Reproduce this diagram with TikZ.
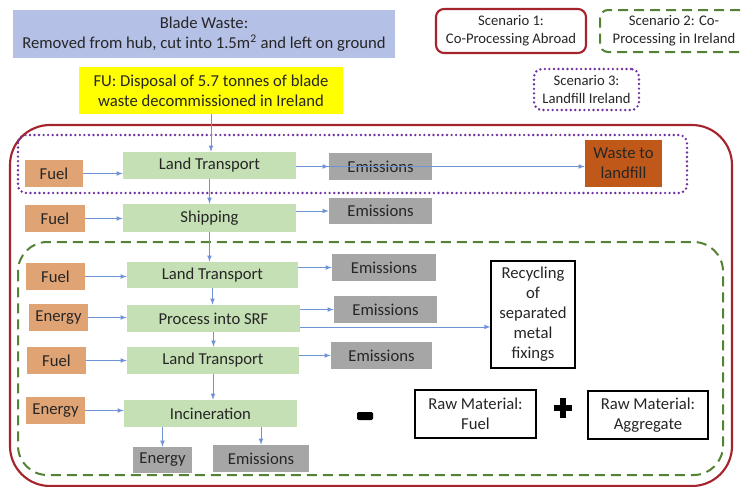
\documentclass[tikz,border=0pt]{standalone}
\usepackage{fontspec}
\setmainfont{Carlito}
\usepackage{xcolor}
\usepackage{tikz}
\usetikzlibrary{arrows,positioning}
\definecolor{blade}{HTML}{B4C0E6}
\definecolor{fu}{HTML}{FFFF00}
\definecolor{fuel}{HTML}{E0A374}
\definecolor{proc}{HTML}{C5E0B4}
\definecolor{emis}{HTML}{A6A6A6}
\definecolor{landf}{HTML}{C0581A}
\definecolor{scena}{HTML}{A5232B}
\definecolor{scenb}{HTML}{548235}
\definecolor{scenc}{HTML}{7030A0}
\definecolor{flow}{HTML}{6F93D6}
\tikzset{
    box/.style={draw=none, inner sep=1pt, align=center, text=black!85,
        font=\fontsize{12.5}{15}\selectfont},
    fuelbox/.style={box, fill=fuel},
    procbox/.style={box, fill=proc},
    emisbox/.style={box, fill=emis},
    outbox/.style={box, fill=white, draw=black, line width=0.9pt},
    legbox/.style={box, fill=white, font=\fontsize{11}{13.5}\selectfont},
    flowarrow/.style={->, >=latex, color=flow, line width=0.6pt},
}
\newcommand{\pbox}[7]{
    \pgfmathsetmacro{\bw}{(#5-#3)*0.75}
    \pgfmathsetmacro{\bh}{(#6-#4)*0.75}
    \node[#2, minimum width=\bw pt, minimum height=\bh pt] (#1) at ({(#3+#5)/2},
    {(#4+#6)/2}) {#7};
}

\begin{document}
\begin{tikzpicture}[x=0.75pt, y=-0.75pt]
        \useasboundingbox (0,0) rectangle (743,486);

        % scenario frames
        \draw[color=scena, line width=1.6pt, rounded corners=30pt] (10,125) rectangle (732,486);
        \draw[color=scenc, line width=2pt, dash pattern=on 0pt off 3.4pt, line cap=round,
        rounded corners=6pt] (18,135) rectangle (687,193);
        \draw[color=scenb, line width=1.5pt, dash pattern=on 7.5pt off 4.5pt,
        rounded corners=22pt] (18,242) rectangle (723,475);

        \pbox{blade}{box, fill=blade}{13}{10}{395}{58}{Blade Waste:\\Removed from hub, cut into 1.5m\textsuperscript{2} and left on ground};
        \pbox{fu}{box, fill=fu}{79}{67}{343}{114}{FU: Disposal of 5.7 tonnes of blade\\waste decommissioned in Ireland};

        \pbox{leg1}{legbox, draw=scena, line width=1.6pt, rounded corners=6pt}{436}{9}{586}{53}{Scenario 1:\\Co-Processing Abroad};
        \pbox{leg2}{legbox, draw=scenb, line width=1.5pt, dash pattern=on 7.5pt off 4.5pt, rounded corners=6pt}{600}{10}{748}{52}{Scenario 2: Co-\\Processing in Ireland};
        \pbox{leg3}{legbox, draw=scenc, line width=2pt, dash pattern=on 0pt off 3.4pt, line cap=round, rounded corners=6pt}{534}{69}{639}{110}{Scenario 3:\\Landfill Ireland};

        \pbox{fuel1}{fuelbox}{25}{160}{83}{187}{Fuel};
        \pbox{land1}{procbox}{123}{152}{296}{179}{Land Transport};
        \pbox{emis1}{emisbox}{329}{153}{432}{180}{Emissions};
        \pbox{landfill}{box, fill=landf}{585}{140}{662}{187}{Waste to\\landfill};

        \pbox{fuel2}{fuelbox}{25}{205}{85}{232}{Fuel};
        \pbox{ship}{procbox}{123}{204}{296}{232}{Shipping};
        \pbox{emis2}{emisbox}{329}{198}{432}{224}{Emissions};

        \pbox{fuel3}{fuelbox}{26}{263}{85}{290}{Fuel};
        \pbox{land3}{procbox}{127}{262}{298}{288}{Land Transport};
        \pbox{emis3}{emisbox}{332}{254}{436}{281}{Emissions};

        \pbox{energy4}{fuelbox}{29}{304}{88}{331}{Energy};
        \pbox{srf}{procbox}{127}{305}{300}{332}{Process into SRF};
        \pbox{emis4}{emisbox}{334}{296}{437}{323}{Emissions};

        \pbox{fuel5}{fuelbox}{27}{347}{86}{374}{Fuel};
        \pbox{land5}{procbox}{127}{347}{299}{374}{Land Transport};
        \pbox{emis5}{emisbox}{331}{342}{432}{369}{Emissions};

        \pbox{energy6}{fuelbox}{26}{397}{85}{424}{Energy};
        \pbox{incin}{procbox}{124}{400}{297}{427}{Incineration};
        \pbox{energyout}{emisbox}{133}{447}{192}{473}{Energy};
        \pbox{emisout}{emisbox}{213}{445}{309}{472}{Emissions};

        \pbox{recyc}{outbox}{491}{261}{575}{368}{Recycling\\of\\separated\\metal\\fixings};
        \pbox{rawfuel}{outbox}{415}{390}{536}{438}{Raw Material:\\Fuel};
        \pbox{rawagg}{outbox}{588}{391}{708}{439}{Raw Material:\\Aggregate};

        % minus and plus
        \fill[black, rounded corners=1pt] (357,412) rectangle (373,420);
        \fill[black] (554,405) rectangle (572,411);
        \fill[black] (560,398) rectangle (566,418);

        % flows
        \draw[flowarrow] (fu.south) -- (fu.south |- land1.north);
        \draw[flowarrow] (fuel1.east) -- (fuel1.east -| land1.west);
        \draw[flowarrow] (emis1.west -| land1.east) -- (emis1.west);
        \draw[flowarrow] (emis1.west -| land1.east) -- (emis1.west -| landfill.west);
        \draw[flowarrow] (land1.south) -- (land1.south |- ship.north);

        \draw[flowarrow] (fuel2.east) -- (fuel2.east -| ship.west);
        \draw[flowarrow] (emis2.west -| ship.east) -- (emis2.west);
        \draw[flowarrow] (ship.south) -- (ship.south |- land3.north);

        \draw[flowarrow] (fuel3.east) -- (fuel3.east -| land3.west);
        \draw[flowarrow] (emis3.west -| land3.east) -- (emis3.west);
        \draw[flowarrow] (land3.south) -- (land3.south |- srf.north);

        \draw[flowarrow] (energy4.east) -- (energy4.east -| srf.west);
        \draw[flowarrow] (emis4.west -| srf.east) -- (emis4.west);
        \draw[flowarrow] ([yshift=4pt]srf.south east) -- ([yshift=4pt]srf.south east -| recyc.west);
        \draw[flowarrow] (srf.south) -- (srf.south |- land5.north);

        \draw[flowarrow] (fuel5.east) -- (fuel5.east -| land5.west);
        \draw[flowarrow] (emis5.west -| land5.east) -- (emis5.west);
        \draw[flowarrow] (land5.south) -- (land5.south |- incin.north);

        \draw[flowarrow] (energy6.east) -- (energy6.east -| incin.west);
        \draw[flowarrow] (energyout.north |- incin.south) -- (energyout.north);
        \draw[flowarrow] (emisout.north |- incin.south) -- (emisout.north);

\end{tikzpicture}
\end{document}
